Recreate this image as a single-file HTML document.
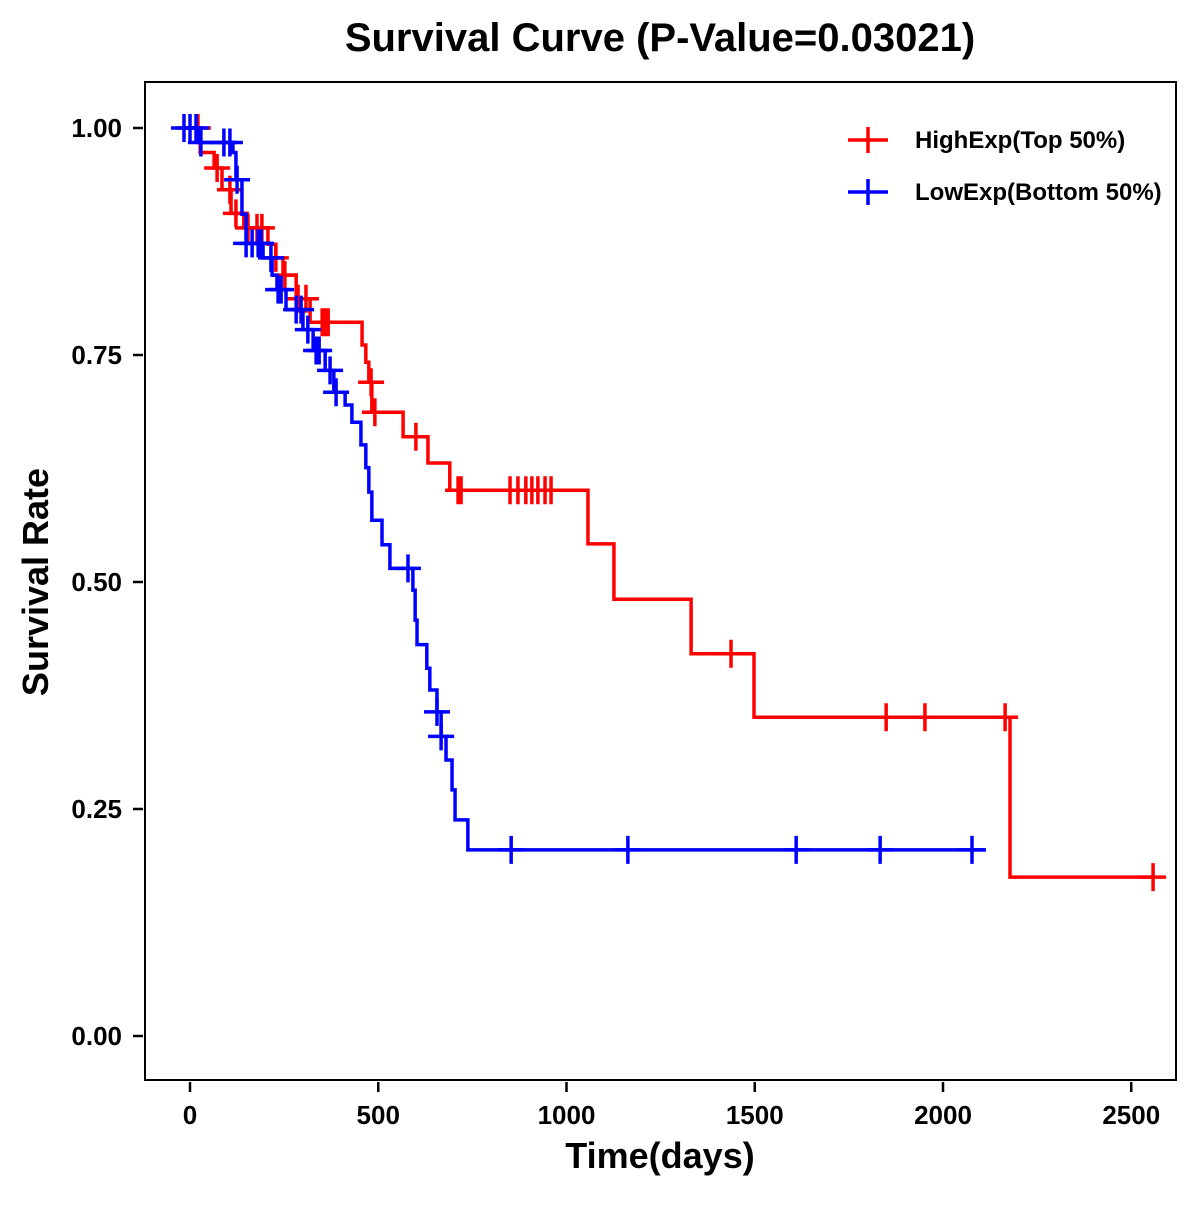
<!DOCTYPE html>
<html><head><meta charset="utf-8">
<style>
html,body{margin:0;padding:0;background:#fff;}
svg text{font-family:"Liberation Sans",Arial,sans-serif;font-weight:bold;}
</style></head>
<body>
<svg id="chart" width="1200" height="1200" viewBox="0 0 1200 1200" xmlns="http://www.w3.org/2000/svg">
<rect width="1200" height="1200" fill="#fff"/>
<text x="660" y="51" font-size="40" text-anchor="middle" fill="#000">Survival Curve (P-Value=0.03021)</text>
<rect x="145" y="82" width="1031" height="998" fill="none" stroke="#000" stroke-width="2"/>
<g id="axes"></g>
<g id="series"></g>
<text x="660" y="1168" font-size="36" text-anchor="middle">Time(days)</text>
<text transform="translate(48,582) rotate(-90)" font-size="36" text-anchor="middle">Survival Rate</text>
<g>
  <g>
    <line x1="848" y1="140" x2="888" y2="140" stroke="#f00" stroke-width="3.5"/>
    <line x1="868" y1="127" x2="868" y2="153" stroke="#f00" stroke-width="3.5"/>
    <text x="915" y="148" font-size="24">HighExp(Top 50%)</text>
  </g>
  <g>
    <line x1="848" y1="192" x2="888" y2="192" stroke="#00f" stroke-width="3.5"/>
    <line x1="868" y1="179" x2="868" y2="205" stroke="#00f" stroke-width="3.5"/>
    <text x="915" y="200" font-size="24">LowExp(Bottom 50%)</text>
  </g>
</g>
</svg>
<script>
const xTicks = [0, 500, 1000, 1500, 2000, 2500];
const yTicks = [0, 0.25, 0.5, 0.75, 1.0];
const yTickLabels = ["0.00", "0.25", "0.50", "0.75", "1.00"];

const highTimes = [27, 64, 85, 109, 143, 207, 228, 247, 282, 319, 457, 467, 475, 483, 566, 632, 690, 1057, 1126, 1331, 1498, 2178];
const highSurv  = [0.973, 0.956, 0.932, 0.906, 0.890, 0.872, 0.857, 0.838, 0.812, 0.786, 0.761, 0.742, 0.72, 0.687, 0.66, 0.631, 0.601, 0.542, 0.481, 0.421, 0.351, 0.175];
const highEnd = 2563;
const highCensor = [21, 72, 106, 122, 154, 178, 191, 228, 252, 287, 308, 351, 359, 367, 481, 491, 600, 712, 720, 850, 871, 892, 908, 924, 943, 959, 1437, 1849, 1952, 2165, 2558];

const lowTimes = [21, 114, 122, 138, 149, 194, 218, 231, 255, 300, 327, 359, 382, 412, 430, 454, 467, 475, 483, 510, 531, 592, 598, 603, 629, 637, 656, 667, 680, 696, 704, 738];
const lowSurv  = [0.984, 0.973, 0.943, 0.905, 0.873, 0.857, 0.838, 0.822, 0.8, 0.778, 0.755, 0.733, 0.709, 0.695, 0.676, 0.651, 0.626, 0.599, 0.568, 0.541, 0.515, 0.491, 0.458, 0.431, 0.405, 0.381, 0.357, 0.33, 0.304, 0.271, 0.238, 0.205];
const lowEnd = 2114;
const lowCensor = [-16, 0, 16, 29, 90, 106, 125, 149, 165, 181, 189, 215, 234, 242, 282, 295, 313, 335, 343, 372, 388, 579, 656, 667, 853, 1163, 1610, 1833, 2077];

const NS = "http://www.w3.org/2000/svg";
function xs(t){ return 190 + t * 0.3765; }
function ys(s){ return 1036 - s * 908; }
function mk(tag, attrs, parent){
  const el = document.createElementNS(NS, tag);
  for (const k in attrs) el.setAttribute(k, attrs[k]);
  parent.appendChild(el);
  return el;
}
const axes = document.getElementById('axes');
xTicks.forEach(t => {
  const l = mk('line', {x1: xs(t), x2: xs(t), y1: 1082, y2: 1092, stroke: '#000', 'stroke-width': 2.5}, axes);
  
  
  const tx = mk('text', {x: xs(t), y: 1124, 'font-size': 26, 'text-anchor': 'middle'}, axes);
  tx.textContent = t;
  
  
});
yTicks.forEach((v, i) => {
  const l = mk('line', {x1: 133, x2: 143, y1: ys(v), y2: ys(v), stroke: '#000', 'stroke-width': 2.5}, axes);
  
  
  const tx = mk('text', {x: 122, y: ys(v) + 9, 'font-size': 26, 'text-anchor': 'end'}, axes);
  tx.textContent = yTickLabels[i];
  
  
});

function survAt(times, surv, t){
  let s = 1;
  for (let i = 0; i < times.length; i++) if (times[i] <= t) s = surv[i];
  return s;
}
const series = document.getElementById('series');
function drawSeries(times, surv, endT, censor, color, name){
  let d = 'M' + xs(0) + ',' + ys(1);
  for (let i = 0; i < times.length; i++){
    d += ' H' + xs(times[i]) + ' V' + ys(surv[i]);
  }
  d += ' H' + xs(endT);
  const p = mk('path', {d: d, fill: 'none', stroke: color, 'stroke-width': 3.5}, series);
  
  
  censor.forEach(t => {
    const s = survAt(times, surv, t);
    const cx = xs(t), cy = ys(s);
    const g = mk('path', {d: 'M' + (cx - 13) + ',' + cy + ' H' + (cx + 13) + ' M' + cx + ',' + (cy - 14) + ' V' + (cy + 14), stroke: color, 'stroke-width': 3.5, fill: 'none'}, series);
    
    
  });
}
drawSeries(highTimes, highSurv, highEnd, highCensor, '#f00', 'high-exp');
drawSeries(lowTimes, lowSurv, lowEnd, lowCensor, '#00f', 'low-exp');
</script>
</body></html>
